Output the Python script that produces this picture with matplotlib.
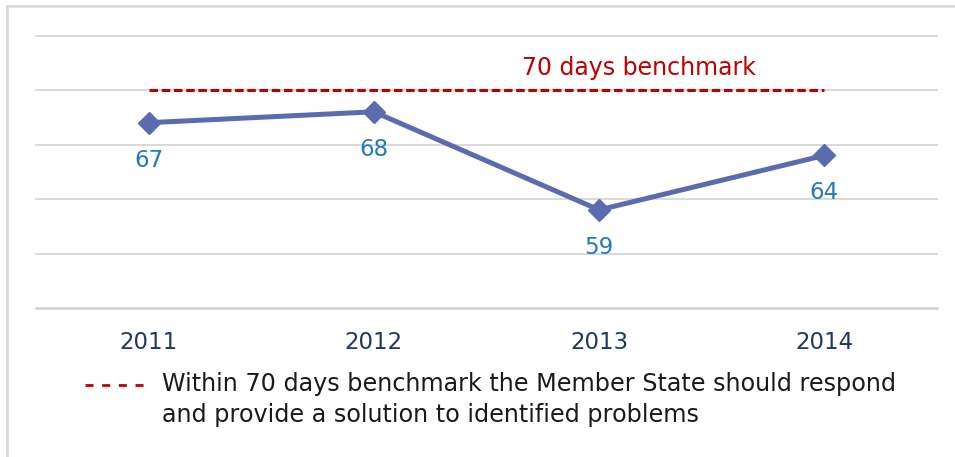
import matplotlib.pyplot as plt
from matplotlib.lines import Line2D
import matplotlib.transforms as mtransforms

# data
years = ['2011', '2012', '2013', '2014']
days = [67, 68, 59, 64]
benchmark = 70
footnote = ('Within 70 days benchmark the Member State should respond\n'
            'and provide a solution to identified problems')

plt.rcParams['font.family'] = 'DejaVu Sans'

fig = plt.figure(figsize=(9.55, 4.57), dpi=100)
ax = fig.add_axes([36 / 955, 1 - 308 / 457, 901 / 955, (308 - 35.5) / 457])

x = list(range(len(years)))

# benchmark line
ax.plot(x, [benchmark] * len(x), color='#C00000', lw=2.2,
        dashes=(2.8, 1.2), zorder=2)
blend = mtransforms.blended_transform_factory(ax.transAxes, ax.transData)
ax.annotate('70 days benchmark', xy=(0.669, benchmark), xycoords=blend,
            xytext=(0, 16), textcoords='offset points',
            ha='center', va='center', color='#C00000', fontsize=17)

# main series
ax.plot(x, days, color='#5B6BAF', lw=3.6, marker='D', ms=11.5,
        solid_joinstyle='round', zorder=3)
for xi, v in zip(x, days):
    ax.annotate(str(v), xy=(xi, v), xytext=(0, -27), textcoords='offset points',
                ha='center', va='center', color='#2479BD', fontsize=16.5)

ax.set_xlim(-0.5, len(years) - 0.5)
ax.set_ylim(50, 75)
ax.set_yticks([55, 60, 65, 70, 75])
ax.yaxis.grid(True, color='#D9D9D9', lw=1.4)
for gl in ax.get_ygridlines():
    gl.set_clip_on(False)
ax.set_axisbelow(True)
ax.tick_params(axis='y', left=False, labelleft=False)
ax.tick_params(axis='x', bottom=False, pad=13, labelsize=16.5, labelcolor='#1F3864')
ax.set_xticks(x)
ax.set_xticklabels(years)
for side in ['top', 'left', 'right']:
    ax.spines[side].set_visible(False)
ax.spines['bottom'].set_color('#D0D0D0')
ax.spines['bottom'].set_linewidth(1.8)

# figure frame (top and left edges only)
fig.add_artist(Line2D([7 / 955, 1], [1 - 6 / 457] * 2, color='#D9D9D9', lw=2,
                      transform=fig.transFigure))
fig.add_artist(Line2D([7 / 955] * 2, [0, 1 - 6 / 457], color='#D9D9D9', lw=2,
                      transform=fig.transFigure))

# footnote
fig.add_artist(Line2D([85 / 955, 147 / 955], [1 - 385 / 457] * 2, color='#C00000',
                      lw=2, dashes=(2.9, 3.1), transform=fig.transFigure))
fig.text(162 / 955, 1 - 399.5 / 457, footnote, ha='left', va='center',
         fontsize=17.2, color='#1A1A1A', linespacing=1.32)

fig.savefig('out.png', dpi=100)
